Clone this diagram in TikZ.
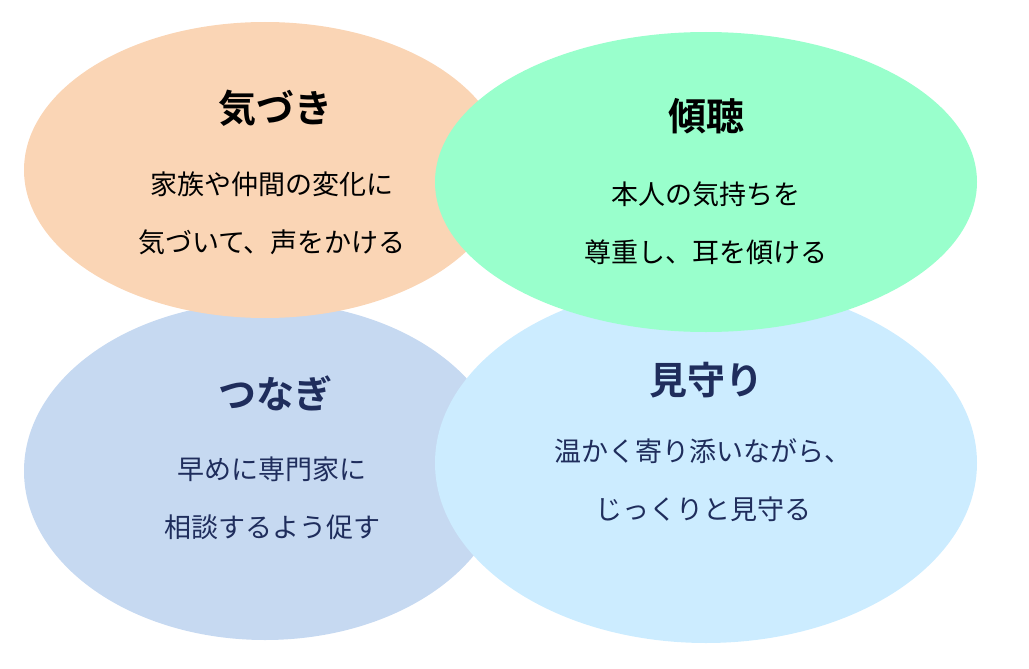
\documentclass[tikz,border=0pt]{standalone}
\usepackage{fontspec}
\newfontfamily\jp{Noto Sans CJK JP}
\newfontfamily\jpb{Noto Sans CJK JP Bold}
\definecolor{cOr}{HTML}{FAD5B5}
\definecolor{cGr}{HTML}{99FFCC}
\definecolor{cBl}{HTML}{C6D9F1}
\definecolor{cLb}{HTML}{CCECFF}
\definecolor{navy}{HTML}{1F2D5C}
\tikzset{ttl/.style={font=\jpb\fontsize{38}{40}\selectfont},
 body/.style={font=\jp\fontsize{27}{58}\selectfont,align=center}}
\begin{document}
\begin{tikzpicture}[x=1pt,y=-1pt]
\useasboundingbox (0,0) rectangle (1029,669);
\fill[cBl] (265,471) ellipse[x radius=241,y radius=169];
\fill[cLb] (706,463) ellipse[x radius=271,y radius=180];
\fill[cOr] (265,170) ellipse[x radius=241,y radius=148];
\fill[cGr] (706,182) ellipse[x radius=271,y radius=150];
\node[ttl] (t1) at (275,108) {気づき};
\node[body] (b1) at (272,213) {家族や仲間の変化に\\気づいて、声をかける};
\node[ttl] (t2) at (706,116) {傾聴};
\node[body] (b2) at (706,223) {本人の気持ちを\\尊重し、耳を傾ける};
\node[ttl,text=navy] (t3) at (275,393) {つなぎ};
\node[body,text=navy] (b3) at (272,498) {早めに専門家に\\相談するよう促す};
\node[ttl,text=navy] (t4) at (706,380) {見守り};
\node[body,text=navy] (b4) at (703,480) {温かく寄り添いながら、\\じっくりと見守る};
\end{tikzpicture}
\end{document}
